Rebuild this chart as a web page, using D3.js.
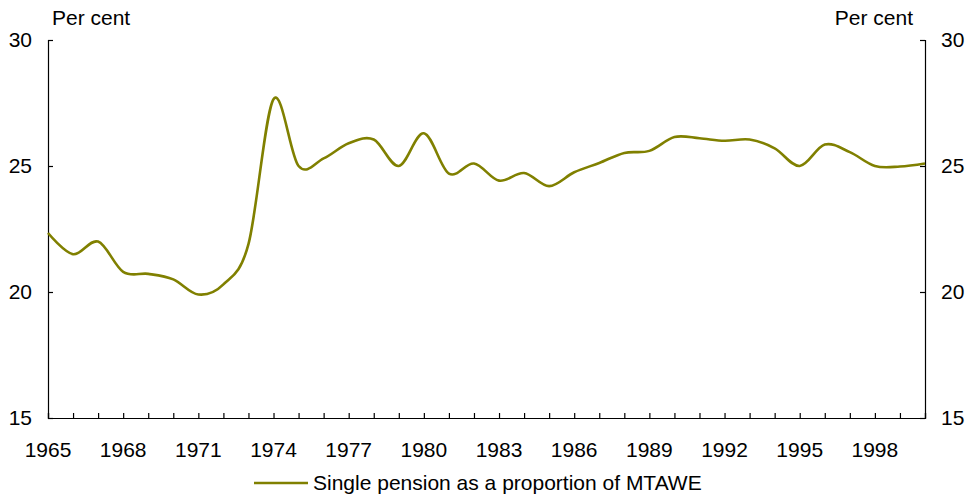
<!DOCTYPE html>
<html>
<head>
    <script src="https://d3js.org/d3.v7.min.js"></script>
    <style>
        body { margin: 0; background: #fff; }
        text { font-family: "Liberation Sans", Arial, sans-serif; font-size: 21px; fill: #000; }
    </style>
</head>
<body>
    <svg width="971" height="496"></svg>
    <script>
        // annual values, per cent
        const years = d3.range(1965, 2001);
        const values = [22.34, 21.5, 22.0, 20.8, 20.72, 20.5, 19.9, 20.3, 21.9, 27.65,
            25.0, 25.3, 25.9, 26.05, 25.0, 26.3, 24.7, 25.1, 24.42, 24.72,
            24.2, 24.75, 25.12, 25.52, 25.6, 26.15, 26.1, 26.0, 26.05, 25.7,
            25.0, 25.85, 25.55, 25.0, 24.98, 25.1];
        const yTicks = [15, 20, 25, 30];
        const xLabelYears = d3.range(1965, 2000, 3);
        const seriesName = "Single pension as a proportion of MTAWE";

        const data = years.map((y, i) => ({ year: y, value: values[i] }));

        const mLeft = 48, mRight = 925, mTop = 40, mBottom = 418;
        const svg = d3.select("svg");

        const x = d3.scaleLinear().domain([1965, 2000]).range([mLeft, mRight]);
        const y = d3.scaleLinear().domain([15, 30]).range([mBottom, mTop]);

        // left axis
        svg.append("g")
            .attr("transform", "translate(" + mLeft + ",0)")
            .call(d3.axisRight(y).tickValues(yTicks).tickSize(5).tickFormat(""));
        svg.selectAll(".ylab-l").data(yTicks).enter().append("text")
            .attr("x", mLeft - 16).attr("y", d => y(d)).attr("dy", "0.35em")
            .attr("text-anchor", "end").text(d => d);

        // right axis
        svg.append("g")
            .attr("transform", "translate(" + mRight + ",0)")
            .call(d3.axisLeft(y).tickValues(yTicks).tickSize(5).tickFormat(""));
        svg.selectAll(".ylab-r").data(yTicks).enter().append("text")
            .attr("x", mRight + 16).attr("y", d => y(d)).attr("dy", "0.35em")
            .attr("text-anchor", "start").text(d => d);

        // bottom axis, ticks pointing up
        svg.append("g")
            .attr("transform", "translate(0," + mBottom + ")")
            .call(d3.axisTop(x).tickValues(d3.range(1965, 2001)).tickSize(5).tickFormat(""));
        svg.selectAll(".xlab").data(xLabelYears).enter().append("text")
            .attr("x", d => x(d)).attr("y", mBottom + 32).attr("dy", "0.35em")
            .attr("text-anchor", "middle").text(d => d);

        svg.selectAll(".domain").attr("stroke", "#000").attr("stroke-width", 1.2);
        svg.selectAll(".tick line").attr("stroke", "#000").attr("stroke-width", 1.2);

        svg.append("text").attr("x", 52).attr("y", 25).text("Per cent");
        svg.append("text").attr("x", 913).attr("y", 25).attr("text-anchor", "end").text("Per cent");

        const line = d3.line()
            .x(d => x(d.year))
            .y(d => y(d.value))
            .curve(d3.curveCatmullRom.alpha(0));

        svg.append("path")
            .datum(data)
            .attr("fill", "none")
            .attr("stroke", "#808000")
            .attr("stroke-width", 2.6)
            .attr("d", line);

        // legend
        svg.append("line")
            .attr("x1", 254).attr("x2", 308).attr("y1", 483).attr("y2", 483)
            .attr("stroke", "#808000").attr("stroke-width", 2.6);
        svg.append("text").attr("x", 313).attr("y", 483).attr("dy", "0.35em").text(seriesName);
    </script>
</body>
</html>
